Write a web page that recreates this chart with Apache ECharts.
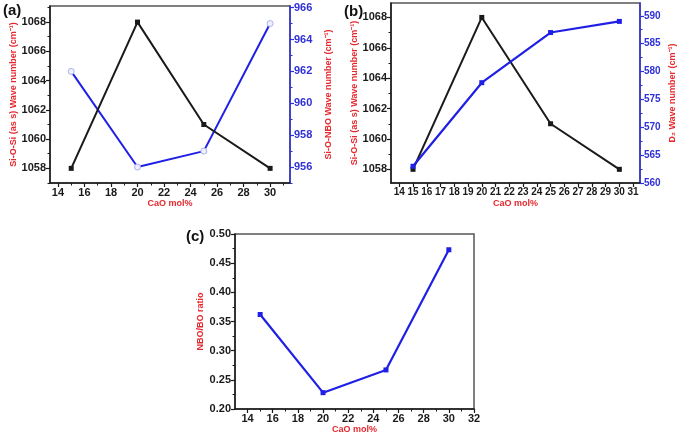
<!DOCTYPE html>
<html>
<head>
<meta charset="utf-8">
<script src="https://cdn.jsdelivr.net/npm/echarts@6/dist/echarts.min.js"></script>
<style>html,body{margin:0;padding:0;background:#fff;}#c{width:685px;height:437px;}</style>
</head>
<body>
<div id="c"></div>
<script>
// ---- data ----
const caoMol = [15, 20, 25, 30];
const siOSiWave = [1058, 1068, 1061, 1058];      // panels (a) and (b), left axis
const siONBOWave = [962, 956, 957, 965];         // panel (a), right axis
const d2Wave = [563, 578, 587, 589];             // panel (b), right axis
const nboBoRatio = [0.362, 0.228, 0.267, 0.473]; // panel (c)

// ---- tick labels ----
const xTicksA = [14, 16, 18, 20, 22, 24, 26, 28, 30];
const xMinorA = [15, 17, 19, 21, 23, 25, 27, 29, 31];
const xTicksB = [14, 15, 16, 17, 18, 19, 20, 21, 22, 23, 24, 25, 26, 27, 28, 29, 30, 31];
const xTicksC = [14, 16, 18, 20, 22, 24, 26, 28, 30, 32];
const xMinorC = [15, 17, 19, 21, 23, 25, 27, 29, 31];
const yTicksSi = [1058, 1060, 1062, 1064, 1066, 1068];
const yMinorSi = [1057, 1059, 1061, 1063, 1065, 1067, 1069];
const yTicksNBO = [956, 958, 960, 962, 964, 966];
const yMinorNBO = [955, 957, 959, 961, 963, 965];
const yTicksD2 = [560, 565, 570, 575, 580, 585, 590];
const yMinorD2 = [562.5, 567.5, 572.5, 577.5, 582.5, 587.5];
const yTicksC = [0.20, 0.25, 0.30, 0.35, 0.40, 0.45, 0.50];
const yMinorC = [0.225, 0.275, 0.325, 0.375, 0.425, 0.475];

const FONT = 'Liberation Sans, Arial, sans-serif';
const DARK = '#1a1a1a';
const BLUE = '#1f1fe6';
const AXBLUE = '#3030d8';
const RED = '#e5282e';

const pairs = (xs, ys) => xs.map((x, i) => [x, ys[i]]);
const titleStyle = {color: RED, fontFamily: FONT, fontWeight: 'bold', fontSize: 9};

const xAxes = [], yAxes = [];
function addAxis(list, o) {
  const color = o.color || DARK;
  const main = {
    gridIndex: o.grid, type: 'value', min: o.min, max: o.max, position: o.pos,
    axisLine: {show: true, onZero: false, lineStyle: {color: color, width: 1.5}},
    axisTick: {show: true, inside: false, length: 4, customValues: o.ticks, lineStyle: {color: color, width: 1.2}},
    axisLabel: {show: true, customValues: o.ticks, margin: o.margin || 4, color: o.labelColor || DARK,
      fontFamily: FONT, fontWeight: 'bold', fontSize: o.fontSize || 11,
      formatter: o.fmt || (v => String(v))},
    splitLine: {show: false},
    name: o.name, nameLocation: 'middle', nameGap: o.nameGap, nameRotate: o.nameRotate,
    nameTextStyle: titleStyle
  };
  list.push(main);
  const idx = list.length - 1;
  if (o.minor) {
    list.push({
      gridIndex: o.grid, type: 'value', min: o.min, max: o.max, position: o.pos, offset: 0,
      axisLine: {show: false, onZero: false},
      axisTick: {show: true, inside: false, length: 2.5, customValues: o.minor, lineStyle: {color: color, width: 1}},
      axisLabel: {show: false}, splitLine: {show: false}
    });
  }
  return idx;
}

// panel (a)
const xa = addAxis(xAxes, {grid: 0, min: 13.4, max: 31.5, pos: 'bottom', ticks: xTicksA, minor: xMinorA, name: 'CaO mol%', nameGap: 16});
const yaL = addAxis(yAxes, {grid: 0, min: 1057, max: 1069.1, pos: 'left', ticks: yTicksSi, minor: yMinorSi, name: 'Si-O-Si (as s) Wave number (cm⁻¹)', nameGap: 32});
const yaR = addAxis(yAxes, {grid: 0, min: 955, max: 966.1, pos: 'right', ticks: yTicksNBO, minor: yMinorNBO, color: AXBLUE, labelColor: AXBLUE, name: 'Si-O-NBO Wave number (cm⁻¹)', nameGap: 34, nameRotate: 90});
// panel (b)
const xb = addAxis(xAxes, {grid: 1, min: 13.4, max: 31.5, pos: 'bottom', ticks: xTicksB, name: 'CaO mol%', nameGap: 16, fontSize: 10});
const ybL = addAxis(yAxes, {grid: 1, min: 1057.1, max: 1068.95, pos: 'left', ticks: yTicksSi, minor: yMinorSi.filter(v => v > 1057.1 && v < 1068.95), name: 'Si-O-Si (as s) Wave number (cm⁻¹)', nameGap: 32});
const ybR = addAxis(yAxes, {grid: 1, min: 560, max: 592.3, pos: 'right', ticks: yTicksD2, minor: yMinorD2, color: AXBLUE, labelColor: AXBLUE, fontSize: 10, name: 'D₂ Wave number (cm⁻¹)', nameGap: 28, nameRotate: 90});
// panel (c)
const xc = addAxis(xAxes, {grid: 2, min: 13, max: 32, pos: 'bottom', ticks: xTicksC, minor: xMinorC, name: 'CaO mol%', nameGap: 16});
const yc = addAxis(yAxes, {grid: 2, min: 0.2, max: 0.5, pos: 'left', ticks: yTicksC, minor: yMinorC, name: 'NBO/BO ratio', nameGap: 30, fmt: v => v.toFixed(2)});

const gridBase = {show: true, borderColor: '#555', borderWidth: 1.5, backgroundColor: 'transparent', containLabel: false};

const option = {
  animation: false,
  backgroundColor: '#fff',
  graphic: [
    {type: 'text', left: 3, top: 3, style: {text: '(a)', font: 'bold 15px ' + FONT, fill: '#111'}},
    {type: 'text', left: 344, top: 4, style: {text: '(b)', font: 'bold 15px ' + FONT, fill: '#111'}},
    {type: 'text', left: 186, top: 229, style: {text: '(c)', font: 'bold 15px ' + FONT, fill: '#111'}}
  ],
  grid: [
    Object.assign({left: 50, top: 6, width: 240, height: 177}, gridBase),
    Object.assign({left: 391, top: 3, width: 249, height: 180}, gridBase),
    Object.assign({left: 235, top: 234, width: 239, height: 175}, gridBase)
  ],
  xAxis: xAxes,
  yAxis: yAxes,
  series: [
    {type: 'line', xAxisIndex: xa, yAxisIndex: yaL, data: pairs(caoMol, siOSiWave),
      symbol: 'rect', symbolSize: 5, lineStyle: {color: DARK, width: 2}, itemStyle: {color: DARK}, z: 3},
    {type: 'line', xAxisIndex: xa, yAxisIndex: yaR, data: pairs(caoMol, siONBOWave),
      symbol: 'circle', symbolSize: 6, showAllSymbol: true, lineStyle: {color: BLUE, width: 2},
      itemStyle: {color: '#eef0ff', borderColor: '#aab0ee', borderWidth: 1}, z: 2},
    {type: 'line', xAxisIndex: xb, yAxisIndex: ybL, data: pairs(caoMol, siOSiWave),
      symbol: 'rect', symbolSize: 5, lineStyle: {color: DARK, width: 2}, itemStyle: {color: DARK}, z: 2},
    {type: 'line', xAxisIndex: xb, yAxisIndex: ybR, data: pairs(caoMol, d2Wave),
      symbol: 'rect', symbolSize: 5, lineStyle: {color: BLUE, width: 2.2}, itemStyle: {color: BLUE}, z: 3},
    {type: 'line', xAxisIndex: xc, yAxisIndex: yc, data: pairs(caoMol, nboBoRatio),
      symbol: 'rect', symbolSize: 5, lineStyle: {color: BLUE, width: 2.2}, itemStyle: {color: BLUE}, z: 3}
  ]
};

const chart = echarts.init(document.getElementById('c'), null, {renderer: 'canvas'});
chart.setOption(option);
</script>
</body>
</html>
